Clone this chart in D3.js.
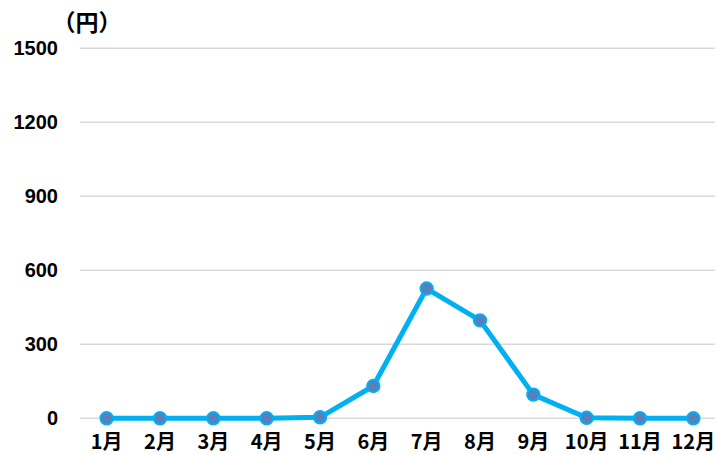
<!DOCTYPE html>
<html>
<head>
<meta charset="utf-8">
<script src="https://cdn.jsdelivr.net/npm/d3@7"></script>
<style>
  body { margin: 0; background: #fff; }
  svg { display: block; }
</style>
</head>
<body>
<svg width="715" height="455"></svg>
<script>
// data
const months = ["1月", "2月", "3月", "4月", "5月", "6月", "7月", "8月", "9月", "10月", "11月", "12月"];
const values = [0, 0, 0, 0, 4, 131, 526, 397, 96, 2, 0, 0];
const yTicks = [0, 300, 600, 900, 1200, 1500];
const unitLabel = "（円）";

const svg = d3.select("svg");
const labelFont = "'Liberation Sans', Arial, sans-serif";

// scales
const x = d3.scaleBand().domain(months).range([80, 720]);
const y = d3.scaleLinear().domain([0, 1500]).range([418.3, 48.3]);

// grid lines
svg.append("g")
    .selectAll("line")
    .data(yTicks)
    .join("line")
    .attr("x1", 80)
    .attr("x2", 715)
    .attr("y1", d => y(d))
    .attr("y2", d => y(d))
    .attr("stroke", "#d9d9d9")
    .attr("stroke-width", 1.5);

// y axis labels
const yAxis = svg.append("g")
    .attr("transform", "translate(58,0)")
    .call(d3.axisLeft(y).tickValues(yTicks).tickFormat(d3.format("d")).tickSize(0).tickPadding(0));
yAxis.select(".domain").remove();
yAxis.selectAll("text")
    .attr("font-family", labelFont)
    .attr("font-size", 20)
    .attr("font-weight", "bold")
    .attr("fill", "#000")
    .attr("dy", "0.3em");

// x axis labels
const xAxis = svg.append("g")
    .attr("transform", "translate(0,432)")
    .call(d3.axisBottom(x).tickSize(0).tickPadding(0));
xAxis.select(".domain").remove();
xAxis.selectAll("text")
    .attr("font-family", "'Noto Sans CJK JP', sans-serif")
    .attr("font-size", 20)
    .attr("font-weight", "bold")
    .attr("fill", "#000")
    .attr("dy", "0.85em");

// unit label
svg.append("text")
    .attr("x", 87)
    .attr("y", 31)
    .attr("text-anchor", "middle")
    .attr("font-family", "'Noto Sans CJK JP', sans-serif")
    .attr("font-size", 23)
    .attr("font-weight", "bold")
    .text(unitLabel);

// line
const line = d3.line()
    .x((d, i) => x(months[i]) + x.bandwidth() / 2)
    .y(d => y(d));

svg.append("path")
    .datum(values)
    .attr("d", line)
    .attr("fill", "none")
    .attr("stroke", "#00b0f0")
    .attr("stroke-width", 5)
    .attr("stroke-linejoin", "round");

// markers
svg.append("g")
    .selectAll("circle")
    .data(values)
    .join("circle")
    .attr("cx", (d, i) => x(months[i]) + x.bandwidth() / 2)
    .attr("cy", d => y(d))
    .attr("r", 6.2)
    .attr("fill", "#5580bd")
    .attr("stroke", "#00b0f0")
    .attr("stroke-width", 2);
</script>
</body>
</html>
